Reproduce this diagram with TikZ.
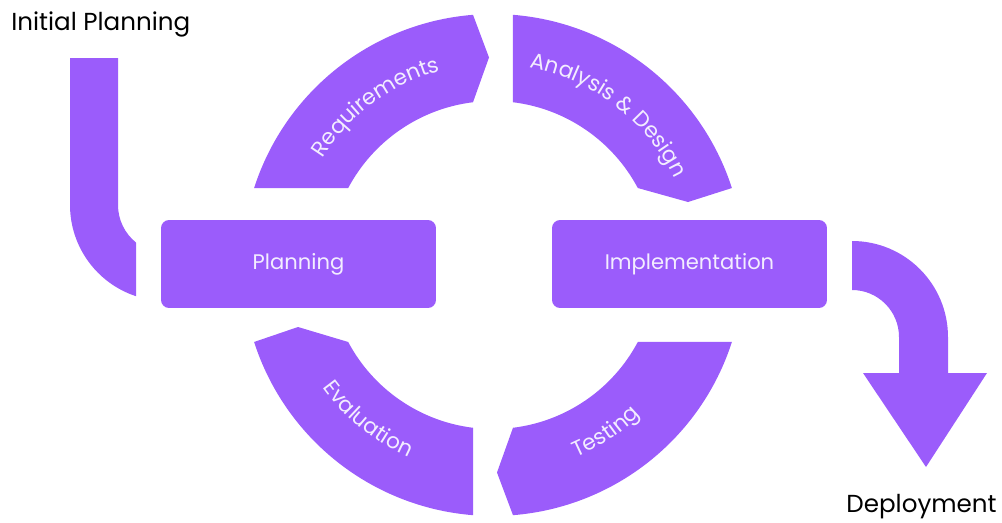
\documentclass[tikz,border=0pt]{standalone}
\usepackage{fontspec}
\setmainfont{Poppins}
\usetikzlibrary{decorations.text,calc}
\definecolor{purp}{HTML}{9B5CFB}
\definecolor{lav}{HTML}{F3EDFF}
\newcommand{\arcfont}{\fontsize{12.3}{14}\selectfont}
\begin{document}
\begin{tikzpicture}[x=0.02cm,y=0.02cm,
  band/.style={fill=purp,draw=none},
  stagebox/.style={fill=purp,draw=none,rounded corners=0.16cm,minimum width=5.5cm,minimum height=1.76cm,text=lav,font=\fontsize{12}{14}\selectfont},
  outlabel/.style={text=black,font=\fontsize{14}{16}\selectfont,inner sep=0pt},
  arctext/.style={decorate,decoration={text along path,text align=center,text color=lav}}]
\useasboundingbox (0,0) rectangle (1002,522);
\coordinate (C) at (493,257);
% stage boxes
\node[stagebox] (plan) at (298.5,258) {Planning};
\node[stagebox] (impl) at (689.5,258) {Implementation};
% arc segments
\fill[band] ($(C)+(162.14:251)$) arc[start angle=162.14,end angle=94.57,radius=251] -- (489,464.5) -- ($(C)+(97:164)$) arc[start angle=97,end angle=152,radius=164] -- cycle;
\fill[band] ($(C)+(85.43:251)$) arc[start angle=85.43,end angle=17.86,radius=251] -- (688,320) -- ($(C)+(28:164)$) arc[start angle=28,end angle=83,radius=164] -- cycle;
\fill[band] ($(C)+(-17.86:251)$) arc[start angle=-17.86,end angle=-85.43,radius=251] -- (497,49.5) -- ($(C)+(-83:164)$) arc[start angle=-83,end angle=-28,radius=164] -- cycle;
\fill[band] ($(C)+(-94.57:251)$) arc[start angle=-94.57,end angle=-162.14,radius=251] -- (298,195) -- ($(C)+(-152:164)$) arc[start angle=-152,end angle=-97,radius=164] -- cycle;
% arc labels
\path[arctext,decoration={text={|\arcfont|Requirements}}] ($(C)+(160:201)$) arc[start angle=160,end angle=93,radius=201];
\path[arctext,decoration={text={|\arcfont|Analysis {\&} Design}}] ($(C)+(86:201)$) arc[start angle=86,end angle=19,radius=201];
\path[arctext,decoration={text={|\arcfont|Testing}}] ($(C)+(-90:210)$) arc[start angle=-90,end angle=-22,radius=210];
\path[arctext,decoration={text={|\arcfont|Evaluation}}] ($(C)+(197:210)$) arc[start angle=197,end angle=265,radius=210];
% outer labels
\node[outlabel,anchor=north west] (init) at (11,511) {Initial Planning};
\node[outlabel,anchor=south east] (depl) at (997,3) {Deployment};
% entry elbow
\coordinate (e1) at (70,464);
\coordinate (e2) at (118,464);
\fill[band] (e1) -- (70,317) arc[start angle=180,end angle=251.8,radius=96] -- (136,279.5) arc[start angle=231.3,end angle=180,radius=48] -- (e2) -- cycle;
% exit arrow
\coordinate (x1) at (852,281);
\fill[band] (x1) arc[start angle=90,end angle=0,radius=96] -- (948,149) -- (987,149) -- (926,55) -- (863,149) -- (899,149) -- (899,185) arc[start angle=0,end angle=90,radius=47] -- cycle;
\end{tikzpicture}
\end{document}
